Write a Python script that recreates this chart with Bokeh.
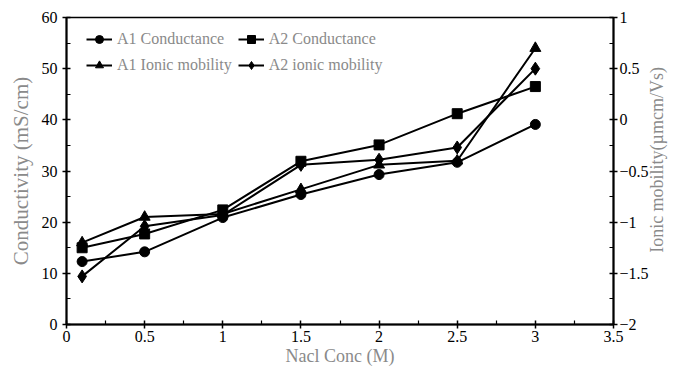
import math
from bokeh.plotting import figure
from bokeh.models import Range1d, LinearAxis, FixedTicker, Legend, LegendItem
from bokeh.embed import file_html
from bokeh.resources import INLINE

conc = [0.1, 0.5, 1.0, 1.5, 2.0, 2.5, 3.0]
a1_conductance = [12.3, 14.2, 20.9, 25.4, 29.3, 31.7, 39.1]
a2_conductance = [15.0, 17.7, 22.4, 31.9, 35.1, 41.2, 46.5]
a1_mobility = [-1.2, -0.95, -0.92, -0.68, -0.44, -0.40, 0.70]
a2_mobility = [-1.53, -1.04, -0.93, -0.44, -0.39, -0.27, 0.50]

x_ticks = [0, 0.5, 1, 1.5, 2, 2.5, 3, 3.5]
y_ticks = [0, 10, 20, 30, 40, 50, 60]
y2_ticks = [-2, -1.5, -1, -0.5, 0, 0.5, 1]

FONT = "Liberation Serif"
GREY = "#8a8a8a"

p = figure(width=680, height=371, output_backend="svg", toolbar_location=None,
           x_range=Range1d(0, 3.5), y_range=Range1d(0, 60),
           min_border_left=66, min_border_right=64, min_border_top=17, min_border_bottom=47)
p.extra_y_ranges = {"mob": Range1d(-2, 1)}
p.grid.visible = False
p.outline_line_color = "black"
p.outline_line_width = 1.5

def style_axis(ax, label):
    ax.axis_label = label
    ax.axis_label_text_font = FONT
    ax.axis_label_text_font_size = "18px"
    ax.axis_label_text_font_style = "normal"
    ax.axis_label_text_color = GREY
    ax.major_label_text_font = FONT
    ax.major_label_text_font_size = "16px"
    ax.major_label_text_color = "black"
    ax.axis_line_width = 2
    ax.major_tick_in = 4
    ax.major_tick_out = 4
    ax.minor_tick_in = 4
    ax.minor_tick_out = 0
    ax.major_tick_line_width = 1.5
    ax.minor_tick_line_width = 1.2

xa = p.xaxis[0]
xa.ticker = FixedTicker(ticks=x_ticks, minor_ticks=[0.25, 0.75, 1.25, 1.75, 2.25, 2.75, 3.25])
style_axis(xa, "Nacl Conc (M)")
xa.major_label_standoff = 2
xa.axis_label_standoff = 1

ya = p.yaxis[0]
ya.ticker = FixedTicker(ticks=y_ticks, minor_ticks=[5, 15, 25, 35, 45, 55])
style_axis(ya, "Conductivity (mS/cm)")
ya.axis_label_text_font_size = "21px"
ya.major_label_standoff = 5
ya.axis_label_standoff = 6

ra = LinearAxis(y_range_name="mob")
ra.ticker = FixedTicker(ticks=y2_ticks, minor_ticks=[-1.75, -1.25, -0.75, -0.25, 0.25, 0.75])
style_axis(ra, None)
ra.major_label_standoff = 2
p.add_layout(ra, "right")

# right title, reading bottom-to-top: drawn as the single rotated label of a bare axis
title_tick = -1.3
rt = LinearAxis(y_range_name="mob")
rt.ticker = FixedTicker(ticks=[title_tick], minor_ticks=[])
rt.major_label_overrides = {title_tick: "Ionic mobility(\u00b5mcm/Vs)"}
rt.major_label_orientation = math.pi / 2
rt.major_label_text_font = FONT
rt.major_label_text_font_size = "18px"
rt.major_label_text_color = GREY
rt.major_label_standoff = 6
rt.axis_line_color = None
rt.major_tick_line_color = None
rt.minor_tick_line_color = None
rt.major_tick_out = 0
rt.major_tick_in = 0
p.add_layout(rt, "right")

LW = 2
r1l = p.line(conc, a1_conductance, line_color="black", line_width=LW)
r1m = p.scatter(conc, a1_conductance, marker="circle", size=10, color="black")
r2l = p.line(conc, a2_conductance, line_color="black", line_width=LW)
r2m = p.scatter(conc, a2_conductance, marker="square", size=10, color="black")
r3l = p.line(conc, a1_mobility, line_color="black", line_width=LW, y_range_name="mob")
r3m = p.scatter(conc, a1_mobility, marker="triangle", size=11, color="black", y_range_name="mob")
r4l = p.line(conc, a2_mobility, line_color="black", line_width=LW, y_range_name="mob")
r4m = p.scatter(conc, a2_mobility, marker="diamond", size=13, color="black", y_range_name="mob")

legend = Legend(items=[
    LegendItem(label="A1 Conductance", renderers=[r1l, r1m]),
    LegendItem(label="A2 Conductance", renderers=[r2l, r2m]),
    LegendItem(label="A1 Ionic mobility", renderers=[r3l, r3m]),
    LegendItem(label="A2 ionic mobility", renderers=[r4l, r4m]),
], orientation="horizontal", ncols=2, location=(20, 249),
    border_line_color=None, background_fill_alpha=0, padding=0, margin=0,
    spacing=6, glyph_width=26, glyph_height=20, label_height=20, label_standoff=5,
    label_text_font=FONT, label_text_font_size="16px", label_text_color=GREY)
p.add_layout(legend, "center")

open("out.html", "w").write(file_html(p, INLINE))
